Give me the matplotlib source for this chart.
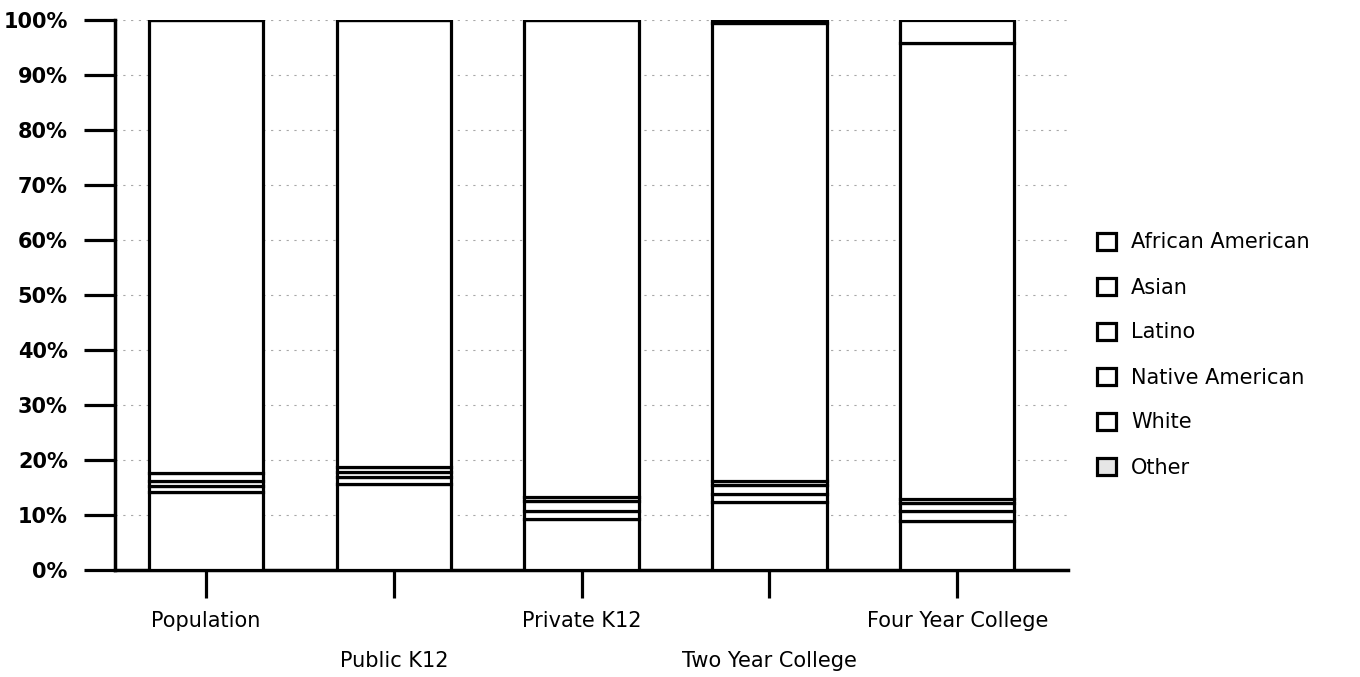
import matplotlib.pyplot as plt
from matplotlib.patches import Patch
import numpy as np

# categories along the x axis
categories = ['Population', 'Public K12', 'Private K12', 'Two Year College', 'Four Year College']

# percentage shares, stacked bottom to top
african_american = [14.2, 15.6, 9.2, 12.3, 9.0]
asian = [1.0, 1.4, 1.6, 1.5, 1.8]
latino = [0.9, 0.8, 1.7, 1.6, 1.3]
native_american = [1.5, 0.9, 0.8, 0.7, 0.8]
white = [82.4, 81.3, 86.7, 83.4, 82.9]
other = [0.0, 0.0, 0.0, 0.5, 4.2]

series = [
    ('African American', african_american),
    ('Asian', asian),
    ('Latino', latino),
    ('Native American', native_american),
    ('White', white),
    ('Other', other),
]

plt.rcParams['font.family'] = ['DejaVu Sans']

fig = plt.figure(figsize=(13.6, 6.77), dpi=100)
ax = fig.add_axes([115 / 1360, 1 - 570 / 677, (1068 - 115) / 1360, (570 - 20) / 677])

x = np.arange(len(categories))
bottom = np.zeros(len(categories))
for name, vals in series:
    vals = np.array(vals)
    ax.bar(x, vals, bottom=bottom, width=0.61, color='white',
           edgecolor='black', linewidth=2.3, zorder=3)
    bottom += vals

ax.set_xlim(-0.485, 4.59)
ax.set_ylim(0, 100)

# faint dashed grid, only seen between the bars
ax.yaxis.grid(True, color='#a8a8a8', linestyle=(0, (2, 5)), linewidth=0.8, zorder=0)
ax.set_axisbelow(True)

ax.set_yticks(np.arange(0, 101, 10))
ax.set_yticklabels([f'{v}%' for v in range(0, 101, 10)], fontsize=15, fontweight='bold')
ax.tick_params(axis='y', direction='out', length=22, width=2.3, pad=12)

ax.set_xticks(x)
ax.set_xticklabels([])
ax.tick_params(axis='x', direction='out', length=20, width=2.3)
for i, cat in enumerate(categories):
    ax.annotate(cat, xy=(i, 0), xycoords='data',
                xytext=(0, -51 if i % 2 == 0 else -91), textcoords='offset pixels',
                ha='center', va='center', fontsize=15)

for side in ['top', 'right']:
    ax.spines[side].set_visible(False)
ax.spines['left'].set_linewidth(2.5)
ax.spines['bottom'].set_linewidth(2.5)

handles = []
for name, _ in series:
    fc = '#e6e6e6' if name == 'Other' else 'white'
    handles.append(Patch(facecolor=fc, edgecolor='black', linewidth=2.3, label=name))
fig.legend(handles=handles, loc='center left',
           bbox_to_anchor=(1078 / 1360, 1 - 355 / 677),
           frameon=False, fontsize=15, handlelength=0.9, handleheight=0.9,
           handletextpad=0.75, labelspacing=1.2)

fig.savefig('out.png', dpi=100)
